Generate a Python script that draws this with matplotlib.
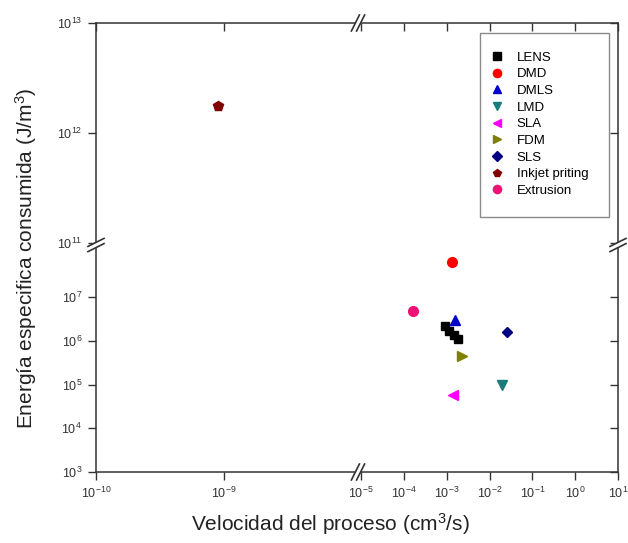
import matplotlib.pyplot as plt
from matplotlib.lines import Line2D
from matplotlib.patches import Polygon, Rectangle
from matplotlib.ticker import FixedLocator, FixedFormatter, NullLocator

plt.rcParams['font.family'] = ['Liberation Sans', 'DejaVu Sans']
plt.rcParams['mathtext.default'] = 'regular'

# data
lens_x = [9.0e-4, 1.15e-3, 1.45e-3, 1.8e-3]
lens_y = [2.2e6, 1.7e6, 1.35e6, 1.1e6]
dmd_x = [1.3e-3]
dmd_y = [6.4e7]
dmls_x = [1.6e-3]
dmls_y = [3.0e6]
lmd_x = [2.0e-2]
lmd_y = [9.5e4]
sla_x = [1.4e-3]
sla_y = [5.8e4]
fdm_x = [2.3e-3]
fdm_y = [4.5e5]
sls_x = [2.6e-2]
sls_y = [1.6e6]
inkjet_x = [9.0e-10]
inkjet_y = [1.75e12]
extr_x = [1.6e-4]
extr_y = [4.9e6]

series = [
    ('LENS', lens_x, lens_y, 's', 'black', 6),
    ('DMD', dmd_x, dmd_y, 'o', '#ff0000', 7),
    ('DMLS', dmls_x, dmls_y, '^', '#0000cc', 7),
    ('LMD', lmd_x, lmd_y, 'v', '#1a7b7b', 7),
    ('SLA', sla_x, sla_y, '<', '#ff00ff', 7),
    ('FDM', fdm_x, fdm_y, '>', '#7f7f00', 7),
    ('SLS', sls_x, sls_y, 'D', '#000080', 5.5),
    ('Inkjet priting', inkjet_x, inkjet_y, 'p', '#800000', 7),
    ('Extrusion', extr_x, extr_y, 'o', '#ee1277', 7),
]

xt_left = [1e-10, 1e-9]
xt_left_lab = ['$10^{-10}$', '$10^{-9}$']
xt_right = [1e-5, 1e-4, 1e-3, 1e-2, 1e-1, 1e0, 1e1]
xt_right_lab = ['$10^{-5}$', '$10^{-4}$', '$10^{-3}$', '$10^{-2}$', '$10^{-1}$', '$10^{0}$', '$10^{1}$']
yt_low = [1e3, 1e4, 1e5, 1e6, 1e7]
yt_low_lab = ['$10^{3}$', '$10^{4}$', '$10^{5}$', '$10^{6}$', '$10^{7}$']
yt_high = [1e11, 1e12, 1e13]
yt_high_lab = ['$10^{11}$', '$10^{12}$', '$10^{13}$']

W, H = 628, 543
fig = plt.figure(figsize=(6.28, 5.43), dpi=100)


def fx(px):
    return px / W


def fy(py):
    return 1 - py / H


x0, xb, x1 = 96, 358, 618
y0, yb, y1 = 472, 245, 23

ll = fig.add_axes([fx(x0), fy(y0), fx(xb) - fx(x0), fy(yb) - fy(y0)])
lr = fig.add_axes([fx(xb), fy(y0), fx(x1) - fx(xb), fy(yb) - fy(y0)])
ul = fig.add_axes([fx(x0), fy(yb), fx(xb) - fx(x0), fy(y1) - fy(yb)])
ur = fig.add_axes([fx(xb), fy(yb), fx(x1) - fx(xb), fy(y1) - fy(yb)])

spine_c = '#333333'
for ax in [ll, lr, ul, ur]:
    ax.set_xscale('log')
    ax.set_yscale('log')
    for lab, xs, ys, m, c, ms in series:
        ax.plot(xs, ys, ls='none', marker=m, color=c, markersize=ms, label=lab)
    for sp in ax.spines.values():
        sp.set_color(spine_c)
        sp.set_linewidth(1.1)
    ax.xaxis.set_minor_locator(NullLocator())
    ax.yaxis.set_minor_locator(NullLocator())
    ax.tick_params(length=6, width=1.0, color=spine_c, labelsize=9, labelcolor='#333333')

for ax in [ll, ul]:
    ax.set_xlim(1e-10, 10 ** (-10 + (xb - x0) / 128))
for ax in [lr, ur]:
    ax.set_xlim(10 ** (-5 - 3 / 42.8), 1e1)
for ax in [ll, lr]:
    ax.set_ylim(1e3, 10 ** (3 + (y0 - yb) / 43.75))
for ax in [ul, ur]:
    ax.set_ylim(10 ** (11 - 2 / 110), 1e13)

# lower left
ll.spines['top'].set_visible(False)
ll.spines['right'].set_visible(False)
ll.xaxis.set_major_locator(FixedLocator(xt_left))
ll.xaxis.set_major_formatter(FixedFormatter(xt_left_lab))
ll.yaxis.set_major_locator(FixedLocator(yt_low))
ll.yaxis.set_major_formatter(FixedFormatter(yt_low_lab))
ll.tick_params(direction='out', pad=4)

# lower right
lr.spines['top'].set_visible(False)
lr.spines['left'].set_visible(False)
lr.xaxis.set_major_locator(FixedLocator(xt_right))
lr.xaxis.set_major_formatter(FixedFormatter(xt_right_lab))
lr.tick_params(axis='x', direction='out', pad=4)
lr.yaxis.set_major_locator(FixedLocator(yt_low))
lr.tick_params(axis='y', direction='in', left=False, right=True, labelleft=False)

# upper left
ul.spines['bottom'].set_visible(False)
ul.spines['right'].set_visible(False)
ul.yaxis.set_major_locator(FixedLocator(yt_high))
ul.yaxis.set_major_formatter(FixedFormatter(yt_high_lab))
ul.tick_params(axis='y', direction='out', pad=4)
ul.xaxis.set_major_locator(FixedLocator(xt_left))
ul.tick_params(axis='x', direction='in', bottom=False, top=True, labelbottom=False)

# upper right
ur.spines['bottom'].set_visible(False)
ur.spines['left'].set_visible(False)
ur.xaxis.set_major_locator(FixedLocator(xt_right))
ur.tick_params(axis='x', direction='in', bottom=False, top=True, labelbottom=False)
ur.yaxis.set_major_locator(FixedLocator(yt_high))
ur.tick_params(axis='y', direction='in', left=False, right=True, labelleft=False)


def fig_line(xs, ys, **kw):
    fig.add_artist(Line2D([fx(v) for v in xs], [fy(v) for v in ys],
                          transform=fig.transFigure, **kw))


def x_break(px, py):
    d = 2.6
    pts = [(px - d - 4, py + 8), (px - d + 4, py - 8), (px + d + 4, py - 8), (px + d - 4, py + 8)]
    fig.add_artist(Polygon([(fx(a), fy(b)) for a, b in pts], closed=True,
                           transform=fig.transFigure, facecolor='white', edgecolor='none', zorder=10))
    for s in (-d, d):
        fig_line([px + s - 4, px + s + 4], [py + 8, py - 8], color=spine_c, lw=1.2, zorder=11)


def y_break(px, py):
    d = 2.6
    pts = [(px - 8, py - d + 4), (px + 8, py - d - 4), (px + 8, py + d - 4), (px - 8, py + d + 4)]
    fig.add_artist(Polygon([(fx(a), fy(b)) for a, b in pts], closed=True,
                           transform=fig.transFigure, facecolor='white', edgecolor='none', zorder=10))
    for s in (-d, d):
        fig_line([px - 8, px + 8], [py + s + 4, py + s - 4], color=spine_c, lw=1.2, zorder=11)


x_break(xb, y0)
x_break(xb, y1)
y_break(x0, yb)
y_break(x1, yb)

# legend box drawn separately, entries placed inside it
ur.add_patch(Rectangle((fx(480), fy(217)), fx(609) - fx(480), fy(33) - fy(217),
                       transform=fig.transFigure, facecolor='white', edgecolor='#8a8a8a',
                       lw=1.0, zorder=4, clip_on=False))
leg = ur.legend(loc='upper left', bbox_to_anchor=(fx(491.5), fy(51.5)), bbox_transform=fig.transFigure,
                frameon=False, fontsize=9.5, numpoints=1, borderaxespad=0, borderpad=0,
                labelspacing=0.335, handlelength=0.8, handletextpad=1.1, markerscale=0.85)
leg.set_zorder(6)

fig.text(fx(330), fy(524), 'Velocidad del proceso (cm$^3$/s)', ha='center', va='center',
         fontsize=15, color='#222222')
fig.text(fx(26), fy(258), 'Energía especifica consumida (J/m$^3$)', ha='center', va='center',
         rotation=90, fontsize=15, color='#222222')

fig.savefig('out.png', dpi=100)
